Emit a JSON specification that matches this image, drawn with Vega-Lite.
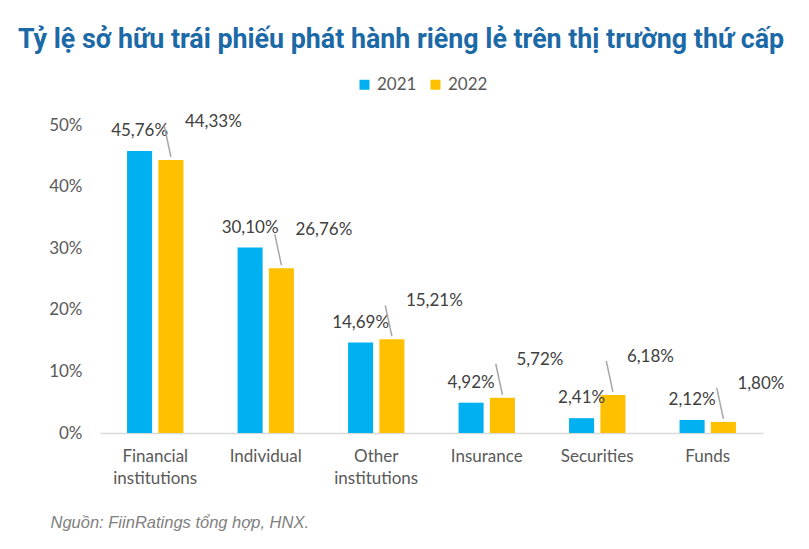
{
  "$schema": "https://vega.github.io/schema/vega-lite/v6.json",
  "autosize": "none",
  "width": 663,
  "height": 308,
  "padding": {"left": 100, "top": 125, "right": 46, "bottom": 116},
  "background": "white",
  "title": {
    "text": "Tỷ lệ sở hữu trái phiếu phát hành riêng lẻ trên thị trường thứ cấp",
    "anchor": "start",
    "frame": "group",
    "dx": -82,
    "offset": 22,
    "font": "Roboto",
    "fontSize": 26.8,
    "fontWeight": "bold",
    "color": "#1b69a6"
  },
  "config": {
    "locale": {"number": {"decimal": ",", "thousands": ".", "grouping": [3], "currency": ["", ""]}},
    "view": {"stroke": null},
    "font": "Lato"
  },
  "data": {
    "values": [
      {"category": "Financial institutions", "year": "2021", "value": 0.4576},
      {"category": "Financial institutions", "year": "2022", "value": 0.4433},
      {"category": "Individual", "year": "2021", "value": 0.3010},
      {"category": "Individual", "year": "2022", "value": 0.2676},
      {"category": "Other institutions", "year": "2021", "value": 0.1469},
      {"category": "Other institutions", "year": "2022", "value": 0.1521},
      {"category": "Insurance", "year": "2021", "value": 0.0492},
      {"category": "Insurance", "year": "2022", "value": 0.0572},
      {"category": "Securities", "year": "2021", "value": 0.0241},
      {"category": "Securities", "year": "2022", "value": 0.0618},
      {"category": "Funds", "year": "2021", "value": 0.0212},
      {"category": "Funds", "year": "2022", "value": 0.0180}
    ]
  },
  "encoding": {
    "x": {
      "field": "category",
      "type": "nominal",
      "sort": null,
      "scale": {"paddingInner": 0.49, "paddingOuter": 0.245},
      "axis": {
        "title": "Nguồn: FiinRatings tổng hợp, HNX.",
        "titleFont": "Liberation Sans",
        "titleFontStyle": "italic",
        "titleFontWeight": "normal",
        "titleFontSize": 16.5,
        "titleColor": "#808080",
        "titleAnchor": "start",
        "titleAlign": "left",
        "titleBaseline": "alphabetic",
        "titleX": -50,
        "titleY": 94,
        "labelExpr": "split(datum.value, ' ')",
        "labelAngle": 0,
        "labelFont": "Lato",
        "labelFontSize": 17,
        "labelColor": "#595959",
        "labelPadding": 15,
        "labelLineHeight": 22,
        "domainColor": "#d9d9d9",
        "domainWidth": 1.5,
        "ticks": false
      }
    },
    "xOffset": {
      "field": "year",
      "type": "nominal",
      "scale": {"paddingInner": 0.2, "paddingOuter": 0}
    },
    "y": {
      "field": "value",
      "type": "quantitative",
      "scale": {"domain": [0, 0.5]},
      "axis": {
        "title": null,
        "format": ".0%",
        "values": [0, 0.1, 0.2, 0.3, 0.4, 0.5],
        "grid": false,
        "domain": false,
        "ticks": false,
        "labelFont": "Lato",
        "labelFontSize": 17,
        "labelColor": "#595959",
        "labelPadding": 18
      }
    }
  },
  "layer": [
    {
      "mark": {"type": "bar"},
      "encoding": {
        "color": {
          "field": "year",
          "type": "nominal",
          "scale": {"domain": ["2021", "2022"], "range": ["#00b0f0", "#ffc000"]},
          "legend": {
            "title": null,
            "orient": "none",
            "direction": "horizontal",
            "legendX": 256,
            "legendY": -49,
            "symbolType": "square",
            "symbolSize": 100,
            "symbolStrokeWidth": 0,
            "labelFont": "Lato",
            "labelFontSize": 17,
            "labelColor": "#595959",
            "labelOffset": 4,
            "columnPadding": 10
          }
        }
      }
    },
    {
      "transform": [{"filter": "datum.year == '2021'"}],
      "mark": {"type": "text", "dy": -20, "fontSize": 17, "color": "#404040", "font": "Lato"},
      "encoding": {"text": {"field": "value", "type": "quantitative", "format": ".2%"}}
    },
    {
      "transform": [{"filter": "datum.year == '2022'"}],
      "mark": {"type": "rule", "color": "#a6a6a6", "strokeWidth": 1.5, "yOffset": -3, "x2Offset": 9, "y2Offset": -34},
      "encoding": {
        "x": {"field": "category", "type": "nominal", "sort": null, "bandPosition": 0.5},
        "x2": {"field": "category", "bandPosition": 0.5},
        "y2": {"field": "value"}
      }
    },
    {
      "transform": [{"filter": "datum.year == '2022'"}],
      "mark": {"type": "text", "align": "left", "dx": 14, "dy": -38, "fontSize": 17, "color": "#404040", "font": "Lato"},
      "encoding": {"text": {"field": "value", "type": "quantitative", "format": ".2%"}}
    }
  ]
}
